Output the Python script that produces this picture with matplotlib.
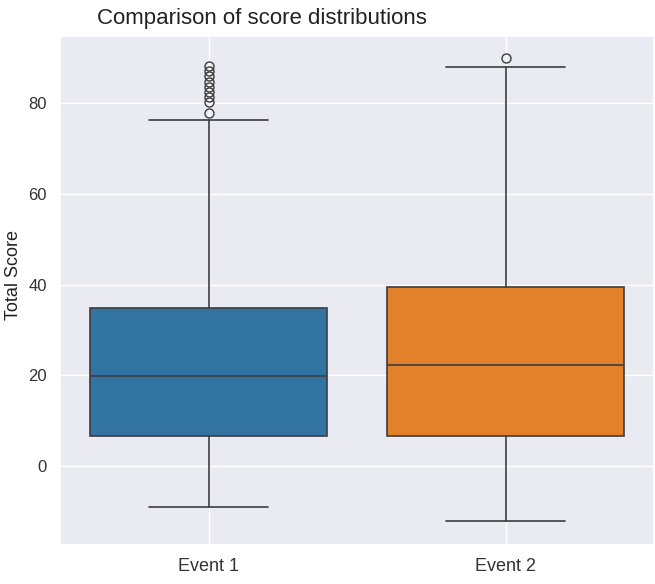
import matplotlib
matplotlib.use('Agg')
import matplotlib.pyplot as plt
import seaborn as sns

sns.set_theme(style='darkgrid')
plt.rcParams['font.family'] = ['Liberation Sans', 'DejaVu Sans']

# summary values
events = ['Event 1', 'Event 2']
whislo = [-9.0, -12.1]
q1 = [6.6, 6.6]
med = [19.8, 22.3]
q3 = [34.8, 39.5]
whishi = [76.4, 87.9]
fliers = [
    [77.8, 80.2, 81.3, 82.4, 83.5, 84.6, 86.1, 87.2, 88.3],
    [90.1],
]
colors = ['#3274a1', '#e1812c']

stats = []
for i, name in enumerate(events):
    stats.append(dict(label=name, whislo=whislo[i], q1=q1[i], med=med[i],
                      q3=q3[i], whishi=whishi[i], fliers=fliers[i]))

fig = plt.figure(figsize=(6.55, 5.84), dpi=100)
ax = fig.add_axes([0.0916, 0.067, 0.907, 0.871])

line_c = '#3d3d3d'
bp = ax.bxp(stats, positions=[0, 1], widths=0.8, patch_artist=True,
            capwidths=0.4, showfliers=True,
            boxprops=dict(edgecolor=line_c, linewidth=1.2),
            medianprops=dict(color=line_c, linewidth=1.2),
            whiskerprops=dict(color=line_c, linewidth=1.2),
            capprops=dict(color=line_c, linewidth=1.2),
            flierprops=dict(marker='o', markerfacecolor='none',
                            markeredgecolor=line_c, markersize=6.5,
                            markeredgewidth=1.0))
for patch, c in zip(bp['boxes'], colors):
    patch.set_facecolor(c)

ax.set_xlim(-0.5, 1.5)
ax.set_ylim(-17.4, 94.8)
ax.set_yticks([0, 20, 40, 60, 80])
ax.tick_params(axis='both', labelsize=13, colors='#333333')
ax.tick_params(axis='y', labelsize=12)
ax.set_ylabel('Total Score', fontsize=13, color='#222222')
ax.yaxis.set_label_coords(-0.064, 0.53)

fig.text(0.40, 0.968, 'Comparison of score distributions', fontsize=16,
         ha='center', va='center', color='#222222')

fig.savefig('out.png', dpi=100)
